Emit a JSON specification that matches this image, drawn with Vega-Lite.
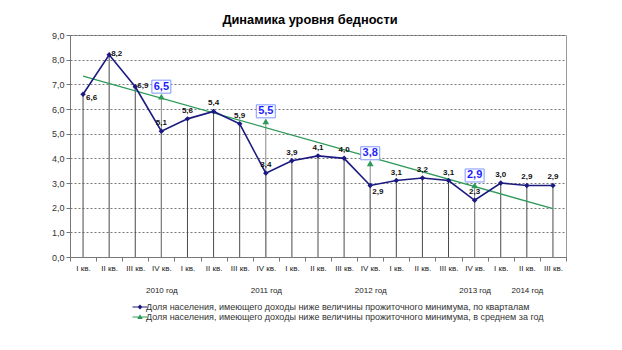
{
  "$schema": "https://vega.github.io/schema/vega-lite/v6.json",
  "width": 496,
  "height": 222,
  "autosize": {"type": "none"},
  "padding": {"left": 70, "top": 35, "right": 56, "bottom": 93},
  "background": "white",
  "title": {"text": "Динамика уровня бедности", "fontSize": 12.8, "fontWeight": "bold", "font": "Liberation Sans", "color": "#000000", "anchor": "middle", "dx": -8, "offset": 4},
  "config": {"font": "Liberation Sans", "view": {"stroke": "#9a9a9a", "strokeWidth": 1}},
  "datasets": {
    "quarters": [
      {"q": "I кв.|2010", "v": 6.6, "lbl": "6,6"},
      {"q": "II кв.|2010", "v": 8.2, "lbl": "8,2"},
      {"q": "III кв.|2010", "v": 6.9, "lbl": "6,9"},
      {"q": "IV кв.|2010", "v": 5.1, "lbl": "5,1"},
      {"q": "I кв.|2011", "v": 5.6, "lbl": "5,6"},
      {"q": "II кв.|2011", "v": 5.9, "lbl": "5,4"},
      {"q": "III кв.|2011", "v": 5.4, "lbl": "5,9"},
      {"q": "IV кв.|2011", "v": 3.4, "lbl": "3,4"},
      {"q": "I кв.|2012", "v": 3.9, "lbl": "3,9"},
      {"q": "II кв.|2012", "v": 4.1, "lbl": "4,1"},
      {"q": "III кв.|2012", "v": 4.0, "lbl": "4,0"},
      {"q": "IV кв.|2012", "v": 2.9, "lbl": "2,9"},
      {"q": "I кв.|2013", "v": 3.1, "lbl": "3,1"},
      {"q": "II кв.|2013", "v": 3.2, "lbl": "3,2"},
      {"q": "III кв.|2013", "v": 3.1, "lbl": "3,1"},
      {"q": "IV кв.|2013", "v": 2.3, "lbl": "2,3"},
      {"q": "I кв.|2014", "v": 3.0, "lbl": "3,0"},
      {"q": "II кв.|2014", "v": 2.9, "lbl": "2,9"},
      {"q": "III кв.|2014", "v": 2.9, "lbl": "2,9"}
    ],
    "annual": [
      {"q": "IV кв.|2010", "v": 6.5, "lbl": "6,5"},
      {"q": "IV кв.|2011", "v": 5.5, "lbl": "5,5"},
      {"q": "IV кв.|2012", "v": 3.8, "lbl": "3,8"},
      {"q": "IV кв.|2013", "v": 2.9, "lbl": "2,9"}
    ],
    "trend": [
      {"q": "I кв.|2010", "v": 7.33},
      {"q": "III кв.|2014", "v": 1.96}
    ]
  },
  "encoding": {
    "x": {
      "field": "q", "type": "nominal", "sort": null,
      "scale": {
        "domain": ["I кв.|2010", "II кв.|2010", "III кв.|2010", "IV кв.|2010", "I кв.|2011", "II кв.|2011", "III кв.|2011", "IV кв.|2011", "I кв.|2012", "II кв.|2012", "III кв.|2012", "IV кв.|2012", "I кв.|2013", "II кв.|2013", "III кв.|2013", "IV кв.|2013", "I кв.|2014", "II кв.|2014", "III кв.|2014"],
        "paddingInner": 0, "paddingOuter": 0
      },
      "axis": {"title": null, "labelAngle": 0, "labelFontSize": 8, "labelColor": "#222222", "labelLineHeight": 22, "labelBaseline": "top", "labelOverlap": false, "tickBand": "extent", "tickSize": 4, "tickColor": "#777777", "domainColor": "#777777", "labelPadding": 3, "grid": false,
        "labelExpr": "!isString(datum.value) ? '' : datum.value === 'IV кв.|2010' ? ['IV кв.', '2010 год'] : datum.value === 'IV кв.|2011' ? ['IV кв.', '2011 год'] : datum.value === 'IV кв.|2012' ? ['IV кв.', '2012 год'] : datum.value === 'IV кв.|2013' ? ['IV кв.', '2013 год'] : datum.value === 'II кв.|2014' ? ['II кв.', '2014 год'] : split(datum.value, '|')[0]"}
    },
    "y": {
      "field": "v", "type": "quantitative",
      "scale": {"domain": [0, 9], "nice": false, "zero": false},
      "axis": {"title": null, "values": [0, 1, 2, 3, 4, 5, 6, 7, 8, 9], "labelExpr": "replace(format(datum.value, '.1f'), '.', ',')", "labelFontSize": 9, "labelColor": "#333333", "tickSize": 4, "tickColor": "#777777", "domainColor": "#777777", "labelPadding": 2, "grid": true, "gridColor": "#555555", "gridDash": [2, 2], "gridWidth": 0.8}
    }
  },
  "layer": [
    {"data": {"name": "quarters"}, "mark": {"type": "rule", "color": "#4a4a4a", "strokeWidth": 1}, "encoding": {"y2": {"datum": 0}}},
    {"data": {"name": "annual"}, "mark": {"type": "rule", "color": "#888888", "strokeWidth": 1}, "encoding": {"y2": {"datum": 0}}},
    {"data": {"name": "trend"}, "mark": {"type": "line", "color": "#2e9b5a", "strokeWidth": 1.3}, "encoding": {}},
    {"data": {"name": "quarters"}, "mark": {"type": "line", "color": "#1a1a80", "strokeWidth": 1.6}, "encoding": {}},
    {"data": {"name": "quarters"}, "mark": {"type": "point", "filled": true, "opacity": 1, "size": 30, "shape": "diamond", "color": "#1a1a80"}, "encoding": {}},
    {"data": {"name": "annual"}, "mark": {"type": "point", "filled": true, "opacity": 1, "size": 45, "shape": "triangle-up", "color": "#2e9b5a"}, "encoding": {}},
    {
      "data": {"name": "annual"},
      "transform": [{"filter": "false"}],
      "mark": {"type": "point", "filled": true, "opacity": 1},
      "encoding": {
        "color": {
          "datum": "Доля населения, имеющего доходы ниже величины прожиточного минимума, по кварталам",
          "scale": {"domain": ["Доля населения, имеющего доходы ниже величины прожиточного минимума, по кварталам", "Доля населения, имеющего доходы ниже величины прожиточного минимума, в среднем за год"], "range": ["#1a1a80", "#2e9b5a"]},
          "legend": {
            "orient": "none", "legendX": 65, "legendY": 267, "title": null, "direction": "vertical",
            "labelFontSize": 9, "labelColor": "#333333", "labelLimit": 500, "labelOffset": 1, "rowPadding": -2,
            "symbolSize": 100, "symbolStrokeWidth": 0, "symbolOpacity": 1
          }
        },
        "shape": {
          "datum": "Доля населения, имеющего доходы ниже величины прожиточного минимума, по кварталам",
          "scale": {"domain": ["Доля населения, имеющего доходы ниже величины прожиточного минимума, по кварталам", "Доля населения, имеющего доходы ниже величины прожиточного минимума, в среднем за год"], "range": ["M-1.5,-0.12H1.5V0.12H-1.5ZM0,-0.5L0.5,0L0,0.5L-0.5,0Z", "M-1.5,-0.12H1.5V0.12H-1.5ZM0,-0.55L0.55,0.4L-0.55,0.4Z"]}
        }
      }
    },
    {
      "data": {"name": "annual"},
      "mark": {"type": "point", "shape": "M-0.95,-1.65H0.95V-0.35H-0.95Z", "size": 400, "filled": true, "fill": "white", "stroke": "#7f97ff", "strokeWidth": 1, "opacity": 1},
      "encoding": {}
    },
    {
      "data": {"name": "annual"},
      "mark": {"type": "text", "fontSize": 11, "fontWeight": "bold", "color": "#1f1fff", "dy": -10, "baseline": "middle", "align": "center"},
      "encoding": {"text": {"field": "lbl"}}
    },
    {
      "data": {"name": "quarters"},
      "transform": [{"filter": "indexof(['I кв.|2010','II кв.|2010','III кв.|2010','IV кв.|2012'], datum.q) < 0"}],
      "mark": {"type": "text", "fontSize": 8, "fontWeight": "bold", "color": "#111111", "dy": -4, "baseline": "bottom", "align": "center"},
      "encoding": {"text": {"field": "lbl"}}
    },
    {
      "data": {"name": "quarters"},
      "transform": [{"filter": "datum.q === 'I кв.|2010'"}],
      "mark": {"type": "text", "fontSize": 8, "fontWeight": "bold", "color": "#111111", "dx": 3, "dy": 4, "baseline": "middle", "align": "left"},
      "encoding": {"text": {"field": "lbl"}}
    },
    {
      "data": {"name": "quarters"},
      "transform": [{"filter": "datum.q === 'II кв.|2010' || datum.q === 'III кв.|2010'"}],
      "mark": {"type": "text", "fontSize": 8, "fontWeight": "bold", "color": "#111111", "dx": 2, "dy": -1, "baseline": "middle", "align": "left"},
      "encoding": {"text": {"field": "lbl"}}
    },
    {
      "data": {"name": "quarters"},
      "transform": [{"filter": "datum.q === 'IV кв.|2012'"}],
      "mark": {"type": "text", "fontSize": 8, "fontWeight": "bold", "color": "#111111", "dx": 2, "dy": 3, "baseline": "top", "align": "left"},
      "encoding": {"text": {"field": "lbl"}}
    }
  ]
}
